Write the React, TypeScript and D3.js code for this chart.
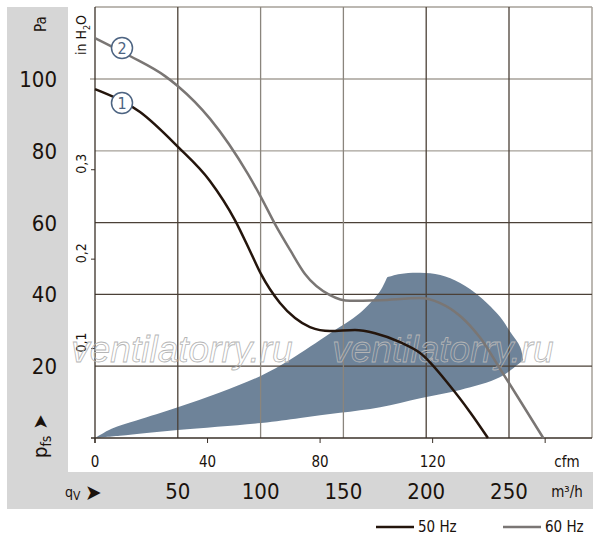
import * as d3 from "d3";

// m³/h and Pa values
const paTicks = [20, 40, 60, 80, 100];
const flowTicks = [50, 100, 150, 200, 250];
const cfmTicks = [0, 40, 80, 120, 160];
const inH2OTicks = [0.1, 0.2, 0.3];

const curve50Hz: [number, number][] = [
  [0, 97.2], [27.2, 90.8], [50.1, 81.1], [69.4, 71.6], [84.5, 60.7], [93.6, 52.1],
  [100.2, 45.7], [111.7, 37.6], [120.8, 33.4], [129.8, 30.9], [141.9, 29.8],
  [157, 30.1], [169.1, 29.2], [184.2, 26.7], [196.3, 23.7], [214.4, 14.5],
  [226.5, 7.2], [237.3, 0],
];
const curve60Hz: [number, number][] = [
  [0, 111.4], [21.1, 106.4], [42.3, 100.8], [50.1, 98], [69.5, 88.9], [92.4, 73.5],
  [100.2, 67.1], [108.7, 59.6], [117.8, 52.4], [126.8, 45.7], [141.9, 39.8],
  [154, 38.2], [172.1, 38.4], [196.3, 39], [208.4, 37.6], [220.5, 34],
  [232.6, 27.9], [244.7, 19.2], [256.8, 10.3], [270.7, 0],
];
const rangeUpperLeft: [number, number][] = [
  [0, 0], [10, 2.6], [25, 4.9], [50, 8.6], [75, 12.6], [100, 17.3],
  [118, 21.9], [142, 29.2], [160, 34.8], [172, 40.8], [176.4, 44.8],
];
const rangeUpperRight: [number, number][] = [
  [176.4, 44.8], [184.3, 45.7], [196.4, 46], [208.5, 45.4], [220.5, 43.2],
  [232.6, 39.3], [244.7, 33.7], [250.8, 29.5], [256.8, 25.3], [258.6, 21.7],
];
const rangeLower: [number, number][] = [
  [258.6, 21.7], [244.7, 17], [220.5, 13.4], [196.4, 11.1], [172.2, 8.6],
  [148, 7], [124, 5.6], [100.3, 4.2], [50, 2.2], [15, 0.6], [0, 0],
];
const hGridColors = ["#4b4037", "#4b4037", "#4b4037", "#a6a199", "#a6a199"];
const vGridColors = ["#4b4037", "#8a857d", "#8a857d", "#4b4037", "#4b4037"];

const FONT = "'Liberation Sans Narrow', 'DejaVu Sans Condensed', sans-serif";

const App = () => {
  const x = d3.scaleLinear([0, 250], [95, 509]);
  const y = d3.scaleLinear([0, 100], [438, 79]);
  const left = x(0);
  const right = 592;
  const top = 7;
  const bottom = y(0);

  const curveLine = d3
    .line<[number, number]>()
    .x((d) => x(d[0]))
    .y((d) => y(d[1]))
    .curve(d3.curveMonotoneX);

  const areaLine = d3
    .line<[number, number]>()
    .x((d) => x(d[0]))
    .y((d) => y(d[1]))
    .curve(d3.curveCatmullRom);

  const joined = [rangeUpperLeft, rangeUpperRight, rangeLower]
    .map((seg, i) => {
      const p = areaLine(seg) ?? "";
      return i === 0 ? p : "L" + p.slice(1);
    })
    .join("") + "Z";

  return (
    <svg width={600} height={539} style={{ position: "absolute", left: 0, top: 0 }} fontFamily={FONT}>
      <rect width={600} height={539} fill="#fff" />
      {/* gray frame */}
      <rect x={7} y={7} width={61} height={502} fill="#d6d6d6" />
      <rect x={7} y={472} width={586} height={37} fill="#d6d6d6" />

      {/* range area */}
      <path d={joined} fill="#6e8399" />

      {/* grid */}
      <line x1={left} x2={right} y1={top} y2={top} stroke="#a6a199" strokeWidth={1.5} />
      <line x1={right} x2={right} y1={top} y2={bottom} stroke="#a6a199" strokeWidth={1.5} />
      {paTicks.map((t, i) => (
        <line key={"h" + t} x1={t === 100 ? 90 : left} x2={right} y1={y(t)} y2={y(t)} stroke={hGridColors[i]} strokeWidth={1.3} />
      ))}
      {flowTicks.map((t, i) => (
        <line key={"v" + t} x1={x(t)} x2={x(t)} y1={top} y2={bottom} stroke={vGridColors[i]} strokeWidth={1.3} />
      ))}
      <line x1={left} x2={left} y1={top} y2={bottom + 5} stroke="#3a3028" strokeWidth={1.3} />
      <line x1={left - 4} x2={right} y1={bottom} y2={bottom} stroke="#3a3028" strokeWidth={1.3} />

      {/* cfm axis */}
      {cfmTicks.map((t) => (
        <g key={"c" + t}>
          <line x1={x(t * 1.699)} x2={x(t * 1.699)} y1={bottom} y2={bottom + 5} stroke="#3a3028" />
          {t < 160 && (
            <text x={x(t * 1.699)} y={467} textAnchor="middle" fontSize={15} fill="#1a120c">{t}</text>
          )}
        </g>
      ))}
      <text x={567} y={467} textAnchor="middle" fontSize={15} fill="#1a120c">cfm</text>

      {/* inH2O axis */}
      {inH2OTicks.map((t) => (
        <g key={"i" + t}>
          <line x1={left - 4} x2={left} y1={y(t * 249.09)} y2={y(t * 249.09)} stroke="#3a3028" />
          <text transform={`translate(86,${y(t * 249.09) + 4}) rotate(-90)`} fontSize={14} fill="#1a120c">
            {"0," + Math.round(t * 10)}
          </text>
        </g>
      ))}
      <text transform="translate(86,55) rotate(-90)" fontSize={14} fill="#1a120c">
        in H<tspan fontSize={9} dy={4}>2</tspan><tspan dy={-4}>O</tspan>
      </text>

      {/* Pa axis */}
      <text transform="translate(46,32) rotate(-90)" fontSize={15} fill="#1a120c">Pa</text>
      {paTicks.map((t) => (
        <text key={"p" + t} x={57} y={y(t) + 8} textAnchor="end" fontSize={22} fill="#1a120c">{t}</text>
      ))}
      <text transform="translate(47,458) rotate(-90)" fontSize={20} fill="#1a120c">
        p<tspan fontSize={14} dy={4}>fs</tspan><tspan dy={-4} dx={6}>➤</tspan>
      </text>

      {/* m³/h axis */}
      <text x={65} y={497} fontSize={14} fill="#1a120c">
        q<tspan fontSize={12} dy={3}>V</tspan>
      </text>
      <text x={85} y={500} fontSize={22} fill="#1a120c">➤</text>
      {flowTicks.map((t) => (
        <text key={"f" + t} x={x(t)} y={499} textAnchor="middle" fontSize={22} fill="#1a120c">{t}</text>
      ))}
      <text x={567} y={497} textAnchor="middle" fontSize={15} fill="#1a120c">m³/h</text>

      {/* watermark */}
      {[182, 443].map((cx) => (
        <text key={"w" + cx} x={cx} y={362} textAnchor="middle" fontSize={37} fontStyle="italic"
          fontFamily="'Liberation Sans', sans-serif" fill="none" stroke="#b5b5b5" strokeWidth={0.8}>
          ventilatorry.ru
        </text>
      ))}

      {/* curves */}
      <path d={curveLine(curve60Hz) ?? ""} fill="none" stroke="#7a7674" strokeWidth={2.5} />
      <path d={curveLine(curve50Hz) ?? ""} fill="none" stroke="#24150c" strokeWidth={2.5} />

      {/* curve markers */}
      {[
        { label: "2", cx: 122, cy: 48 },
        { label: "1", cx: 122, cy: 103 },
      ].map((m) => (
        <g key={m.label}>
          <circle cx={m.cx} cy={m.cy} r={10.5} fill="#fff" stroke="#4d6482" strokeWidth={1.5} />
          <text x={m.cx} y={m.cy + 5.5} textAnchor="middle" fontSize={16} fill="#4d6482">{m.label}</text>
        </g>
      ))}

      {/* legend */}
      <line x1={376} x2={414} y1={527} y2={527} stroke="#24150c" strokeWidth={2.5} />
      <text x={418} y={532} fontSize={15} fill="#1a120c">50 Hz</text>
      <line x1={503} x2={541} y1={527} y2={527} stroke="#7a7674" strokeWidth={2.5} />
      <text x={545} y={532} fontSize={15} fill="#1a120c">60 Hz</text>
    </svg>
  );
};

export default App;
